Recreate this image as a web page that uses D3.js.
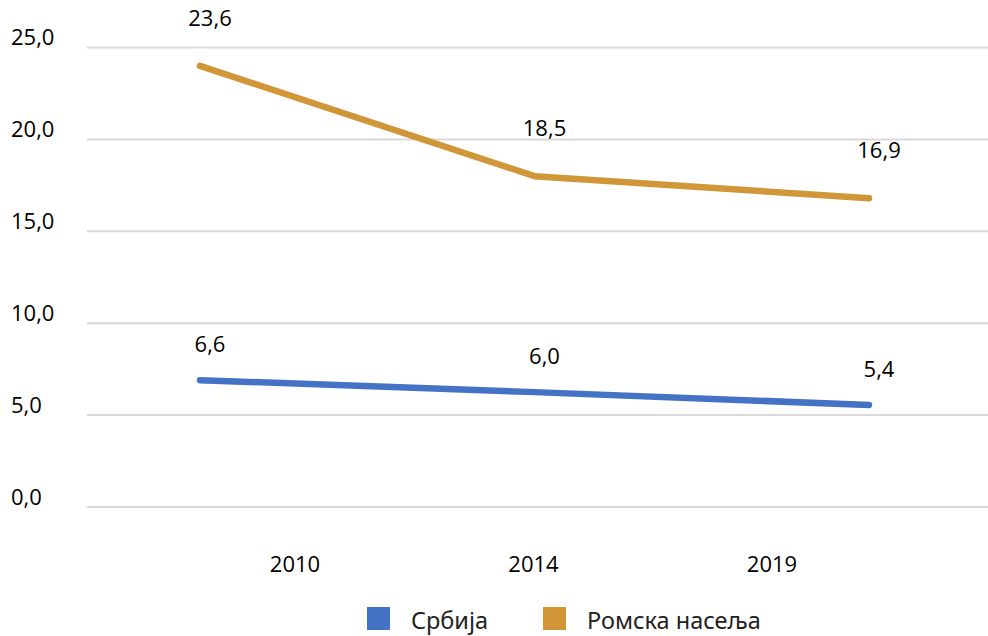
<!DOCTYPE html>
<html>
<head>
<meta charset="utf-8">
<script src="https://cdn.jsdelivr.net/npm/d3@7"></script>
<style>
  body { margin: 0; background: #fff; }
  svg { display: block; }
  .tick-label { font-family: "Open Sans", sans-serif; font-size: 22px; fill: #000; }
  .legend-label { font-family: "Noto Sans", sans-serif; font-size: 23.5px; fill: #222; }
</style>
</head>
<body>
<div class="chart"></div>
<script>
// years on the x axis
const years = ["2010", "2014", "2019"];
// line values as drawn
const srbija = [6.9, 6.25, 5.55];
const romska = [24.0, 18.0, 16.8];
// data labels printed next to the points
const srbijaLabels = [6.6, 6.0, 5.4];
const romskaLabels = [23.6, 18.5, 16.9];
const yTicks = [0, 5, 10, 15, 20, 25];
const seriesNames = ["Србија", "Ромска насеља"];

const width = 988, height = 636;
const colors = ["#4472C4", "#D09638"];

const fmt = d => d3.format(".1f")(d).replace(".", ",");

const svg = d3.select(".chart").append("svg")
  .attr("width", width).attr("height", height);

const yScale = d3.scaleLinear().domain([0, 25]).range([507, 47.5]);
// category labels under the plot
const xAxisScale = d3.scalePoint().domain(years).range([295, 772]);
// the lines sit on their own, wider spacing
const xLine = d3.scalePoint().domain(years).range([200, 869]);

// gridlines
svg.append("g").selectAll("line").data(yTicks).join("line")
  .attr("x1", 87).attr("x2", width)
  .attr("y1", d => yScale(d)).attr("y2", d => yScale(d))
  .attr("stroke", "#d9d9d9").attr("stroke-width", 2);

// y tick labels (left aligned)
svg.append("g").selectAll("text").data(yTicks).join("text")
  .attr("class", "tick-label")
  .attr("x", 11).attr("y", d => yScale(d) - 8)
  .attr("dominant-baseline", "middle")
  .text(fmt);

// x labels
svg.append("g").selectAll("text").data(years).join("text")
  .attr("class", "tick-label")
  .attr("x", d => xAxisScale(d)).attr("y", 566)
  .attr("text-anchor", "middle").attr("dominant-baseline", "middle")
  .text(d => d);

const series = [
  { name: seriesNames[0], values: srbija, labels: srbijaLabels, color: colors[0], lift: 34 },
  { name: seriesNames[1], values: romska, labels: romskaLabels, color: colors[1], lift: 46 }
];

const line = d3.line()
  .x((d, i) => xLine(years[i]))
  .y(d => yScale(d));

svg.append("g").selectAll("path").data(series).join("path")
  .attr("d", d => line(d.values))
  .attr("fill", "none")
  .attr("stroke", d => d.color)
  .attr("stroke-width", 6.5)
  .attr("stroke-linecap", "round")
  .attr("stroke-linejoin", "round");

// data labels
series.forEach(s => {
  svg.append("g").selectAll("text").data(s.values).join("text")
    .attr("class", "tick-label")
    .attr("x", (d, i) => xLine(years[i]) + 10)
    .attr("y", d => yScale(d) - s.lift)
    .attr("text-anchor", "middle").attr("dominant-baseline", "middle")
    .text((d, i) => fmt(s.labels[i]));
});

// legend
const legend = svg.append("g");
const legendX = [367, 543];
series.forEach((s, i) => {
  legend.append("rect")
    .attr("x", legendX[i]).attr("y", 607)
    .attr("width", 23).attr("height", 23)
    .attr("fill", s.color);
  legend.append("text")
    .attr("class", "legend-label")
    .attr("x", legendX[i] + 44).attr("y", 629)
    .text(s.name);
});
</script>
</body>
</html>
